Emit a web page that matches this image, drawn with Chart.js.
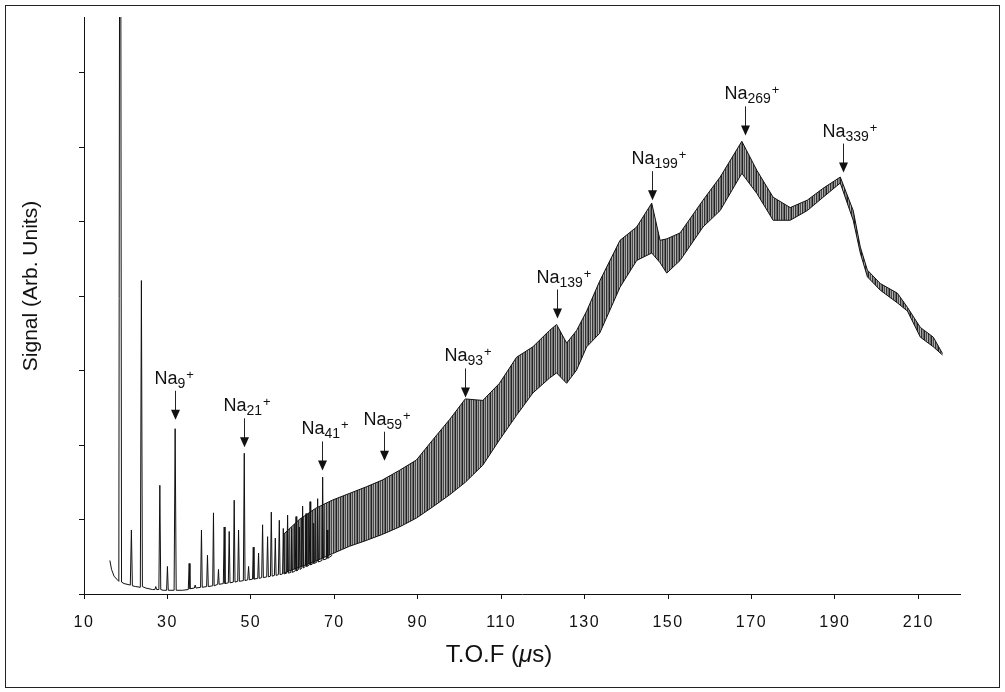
<!DOCTYPE html>
<html>
<head>
<meta charset="utf-8">
<title>Na cluster TOF spectrum</title>
<script src="https://cdn.jsdelivr.net/npm/chart.js@4.4.1/dist/chart.umd.min.js"></script>
<style>
  html, body { margin: 0; padding: 0; background: #fff; }
  canvas { display: block; }
</style>
</head>
<body>
<canvas id="tof" width="1005" height="692"></canvas>
<script>
// time of flight (us) / signal (arb.) - low mass part, single peaks
const spikeTof = [16.2, 16.6, 17.2, 18.0, 18.35, 18.55, 18.8, 19.0, 19.6,
  21.1, 21.36, 21.6, 22.4, 23.5, 23.76, 24.0, 24.8, 26.4, 27.0, 27.21, 27.4,
  27.95, 28.18, 28.4, 28.97, 29.8, 30.0, 30.2, 31.6, 31.85, 32.1, 33.6,
  35.0, 35.21, 35.4, 36.45, 36.65, 36.85, 37.95, 38.16, 38.35, 39.4, 39.6, 39.8,
  40.85, 41.04, 41.2, 42.05, 42.24, 42.4, 43.4, 43.61, 43.8, 44.6, 44.81, 45.0,
  45.8, 46.01, 46.2, 46.85, 47.05, 47.25, 48.2, 48.42, 48.6, 49.25, 49.45, 49.65,
  50.4, 50.58, 50.75, 51.65, 51.85, 52.0, 52.6, 52.81, 53.0, 53.8, 54.01, 54.2,
  54.7, 54.9, 55.1, 55.65, 55.86, 56.05, 56.6, 56.82, 57.0, 57.6, 57.78, 57.95,
  58.6, 58.81, 59.0, 59.6, 59.77, 59.95, 60.65, 60.83, 61.0, 61.45, 61.62, 61.8,
  62.25, 62.41, 62.6, 63.05, 63.23, 63.4, 64.0, 64.19, 64.35, 64.9, 65.05, 65.2,
  65.85, 66.01, 66.2, 67.05, 67.21, 67.4, 68.1, 68.27, 68.45, 69.5];
const spikeSignal = [0.45, 0.33, 0.24, 0.19, 0.17, 9.5, 9.5, 0.16, 0.14,
  0.12, 0.86, 0.11, 0.10, 0.09, 4.21, 0.10, 0.08, 0.06, 0.06, 0.10, 0.06,
  0.06, 1.46, 0.06, 0.05, 0.05, 0.37, 0.05, 0.05, 2.22, 0.05, 0.05,
  0.06, 0.41, 0.07, 0.08, 0.12, 0.08, 0.09, 0.86, 0.09, 0.10, 0.52, 0.10,
  0.11, 1.09, 0.11, 0.13, 0.33, 0.13, 0.14, 0.90, 0.14, 0.15, 0.84, 0.15,
  0.16, 1.26, 0.16, 0.17, 0.86, 0.17, 0.18, 1.89, 0.18, 0.19, 0.37, 0.19,
  0.20, 0.63, 0.20, 0.21, 0.55, 0.21, 0.22, 0.93, 0.22, 0.23, 0.77, 0.23,
  0.24, 1.10, 0.24, 0.25, 0.75, 0.25, 0.26, 0.99, 0.26, 0.27, 0.88, 0.27,
  0.28, 1.06, 0.28, 0.29, 0.88, 0.29, 0.31, 1.04, 0.31, 0.33, 0.90, 0.33,
  0.35, 1.18, 0.35, 0.37, 1.08, 0.37, 0.39, 1.24, 0.39, 0.41, 0.95, 0.41,
  0.43, 1.28, 0.43, 0.45, 1.57, 0.46, 0.47, 0.86, 0.48, 0.52];

// unresolved part: bottom and top of the dense band
const bandTof = [57.8, 61.6, 65.5, 69.5, 73.6, 77.7, 81.5, 85.6, 89.7, 93.6,
  97.6, 101.4, 105.6, 109.6, 113.7, 117.6, 121.6, 123.3, 125.7, 128.1,
  130.5, 133.6, 138.5, 142.5, 146.1, 148.1, 149.7, 152.9, 158.4, 162.5,
  167.7, 171.3, 175.2, 179.3, 183.4, 187.2, 191.3, 194.4, 196.1, 197.8,
  200.9, 205.0, 207.4, 210.5, 213.6, 215.8];
const bandLow = [0.28, 0.36, 0.44, 0.54, 0.64, 0.72, 0.80, 0.90, 1.02, 1.17,
  1.33, 1.50, 1.73, 2.07, 2.40, 2.70, 2.90, 2.97, 2.83, 3.01,
  3.32, 3.50, 4.12, 4.48, 4.58, 4.45, 4.31, 4.48, 4.93, 5.15,
  5.65, 5.38, 5.02, 5.02, 5.15, 5.33, 5.52, 5.02, 4.58, 4.26,
  4.08, 3.91, 3.80, 3.45, 3.32, 3.21];
const bandHigh = [0.80, 1.00, 1.15, 1.26, 1.35, 1.44, 1.53, 1.66, 1.80, 2.07,
  2.34, 2.62, 2.60, 2.83, 3.18, 3.32, 3.54, 3.62, 3.37, 3.54,
  3.80, 4.20, 4.75, 4.93, 5.25, 4.75, 4.77, 4.85, 5.29, 5.60,
  6.08, 5.69, 5.33, 5.19, 5.29, 5.45, 5.60, 5.15, 4.66, 4.35,
  4.17, 4.04, 3.85, 3.58, 3.45, 3.23];

const xTicks = [10, 30, 50, 70, 90, 110, 130, 150, 170, 190, 210];
const yTicks = [0, 1, 2, 3, 4, 5, 6, 7];

// cluster size labels, arrow position (us) and arrow tip (signal)
const annoSize = ['9', '21', '41', '59', '93', '139', '199', '269', '339'];
const annoTof = [31.85, 48.4, 67.1, 81.8, 101.4, 123.3, 146.1, 168.5, 192.0];
const annoTip = [2.34, 1.97, 1.66, 1.79, 2.64, 3.70, 5.29, 6.16, 5.66];

const FONT = "'Liberation Sans', Arial, Helvetica, sans-serif";
const INK = '#111';

const canvas = document.getElementById('tof');
const ctx0 = canvas.getContext('2d');

// fine vertical hatch standing in for the unresolved comb of peaks
function hatch() {
  const c = document.createElement('canvas');
  c.width = 7; c.height = 1;
  const g = c.getContext('2d');
  ['#222', '#9a9a9a', '#4a4a4a', '#b4b4b4', '#333', '#8c8c8c', '#6a6a6a'].forEach((col, i) => {
    g.fillStyle = col;
    g.fillRect(i, 0, 1, 1);
  });
  return ctx0.createPattern(c, 'repeat');
}

const xy = (xs, ys) => xs.map((t, i) => ({ x: t, y: ys[i] }));

const decorations = {
  id: 'decorations',
  beforeDraw(chart) {
    const ctx = chart.ctx;
    ctx.save();
    ctx.fillStyle = '#fff';
    ctx.fillRect(0, 0, chart.width, chart.height);
    ctx.restore();
    ctx.letterSpacing = '1.5px'; // tick numbers are spaced out in the scan
  },
  beforeDatasetsDraw(chart) {
    chart.ctx.letterSpacing = '0px';
  },
  afterDraw(chart) {
    const ctx = chart.ctx;
    const xs = chart.scales.x, ys = chart.scales.y;
    ctx.save();
    ctx.strokeStyle = '#222';
    ctx.fillStyle = INK;
    ctx.lineWidth = 1;
    // outer frame
    ctx.strokeRect(5.5, 5.5, 994, 682);

    // y title
    ctx.save();
    ctx.translate(37, 286);
    ctx.rotate(-Math.PI / 2);
    ctx.font = '21px ' + FONT;
    ctx.textAlign = 'center';
    ctx.fillText('Signal (Arb. Units)', 0, 0);
    ctx.restore();

    // x title with italic mu
    const parts = [['T.O.F (', ''], ['\u03bc', 'italic '], ['s)', '']];
    let w = 0;
    parts.forEach(p => { ctx.font = p[1] + '24px ' + FONT; w += ctx.measureText(p[0]).width; });
    let tx = 499 - w / 2;
    parts.forEach(p => {
      ctx.font = p[1] + '24px ' + FONT;
      ctx.fillText(p[0], tx, 662);
      tx += ctx.measureText(p[0]).width;
    });

    // arrows + labels
    annoSize.forEach((n, i) => {
      const ax = Math.round(xs.getPixelForValue(annoTof[i])) + 0.5;
      const tip = ys.getPixelForValue(annoTip[i]);
      const top = tip - 29;
      ctx.beginPath();
      ctx.moveTo(ax, top);
      ctx.lineTo(ax, tip - 8);
      ctx.stroke();
      ctx.beginPath();
      ctx.moveTo(ax - 4.5, tip - 10);
      ctx.lineTo(ax + 4.5, tip - 10);
      ctx.lineTo(ax, tip);
      ctx.closePath();
      ctx.fill();

      const base = top - 7;
      let lx = ax - 21;
      ctx.font = '18px ' + FONT;
      ctx.fillText('Na', lx, base);
      lx += ctx.measureText('Na').width;
      ctx.font = '14px ' + FONT;
      ctx.fillText(n, lx, base + 4);
      lx += ctx.measureText(n).width + 1;
      ctx.font = '13px ' + FONT;
      ctx.fillText('+', lx, base - 5);
    });
    ctx.restore();
  }
};

new Chart(canvas, {
  type: 'line',
  data: {
    datasets: [
      {
        label: 'resolved peaks',
        data: xy(spikeTof, spikeSignal),
        borderColor: INK,
        borderWidth: 1
      },
      {
        label: 'band bottom',
        data: xy(bandTof, bandLow),
        borderColor: INK,
        borderWidth: 1,
        fill: false
      },
      {
        label: 'band top',
        data: xy(bandTof, bandHigh),
        borderColor: INK,
        borderWidth: 1,
        backgroundColor: hatch(),
        fill: '-1'
      }
    ]
  },
  options: {
    responsive: false,
    animation: false,
    events: [],
    layout: { padding: { left: 0, right: 45, top: 17, bottom: 0 } },
    elements: {
      point: { radius: 0 },
      line: { tension: 0 }
    },
    plugins: {
      legend: { display: false },
      tooltip: { enabled: false }
    },
    scales: {
      x: {
        type: 'linear',
        min: 10,
        max: 220,
        afterBuildTicks: s => { s.ticks = xTicks.map(v => ({ value: v })); },
        afterFit: s => { s.height = 98; },
        border: { color: INK, width: 1 },
        grid: { drawOnChartArea: false, tickLength: 5, color: INK },
        ticks: {
          color: INK,
          font: { family: FONT, size: 16 },
          padding: 14,
          maxRotation: 0,
          autoSkip: false
        }
      },
      y: {
        min: 0,
        max: 7.75,
        afterBuildTicks: s => { s.ticks = yTicks.map(v => ({ value: v })); },
        afterFit: s => { s.width = 84; },
        border: { color: INK, width: 1 },
        grid: { drawOnChartArea: false, tickLength: 5, color: INK },
        ticks: { display: false }
      }
    }
  },
  plugins: [decorations]
});
</script>
</body>
</html>
